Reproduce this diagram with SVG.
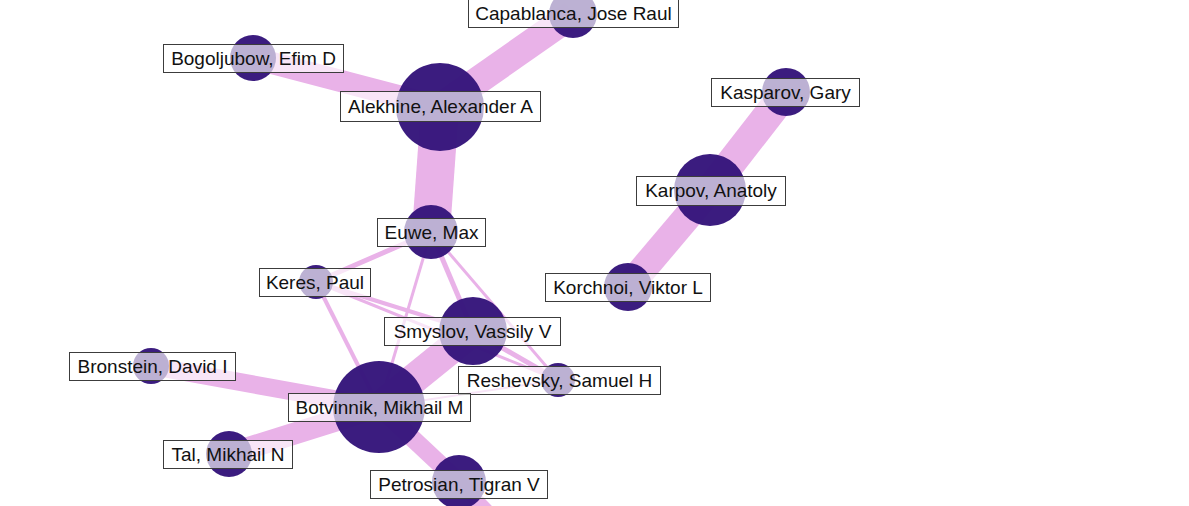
<svg xmlns="http://www.w3.org/2000/svg" width="1189" height="506" viewBox="0 0 1189 506">
<style>
.e{stroke:#e9b2e8;stroke-linecap:butt;fill:none}
.n{fill:#35157b;fill-opacity:0.97}
.lb{fill:#ffffff;fill-opacity:0.66;stroke:#3c3c3c;stroke-width:1}
.t{font-family:"Liberation Sans",Arial,sans-serif;font-size:19px;fill:#111;text-anchor:middle;dominant-baseline:central}
</style>
<rect width="1189" height="506" fill="#ffffff"/>
<g id="connectors">
<line class="e" x1="440" y1="107" x2="573" y2="14" stroke-width="28"/>
<line class="e" x1="440" y1="107" x2="253" y2="58" stroke-width="22"/>
<line class="e" x1="440" y1="107" x2="431" y2="232" stroke-width="38"/>
<line class="e" x1="786" y1="92" x2="710" y2="190" stroke-width="30"/>
<line class="e" x1="710" y1="190" x2="628" y2="287" stroke-width="28"/>
<line class="e" x1="379" y1="407" x2="473" y2="331" stroke-width="30"/>
<line class="e" x1="379" y1="407" x2="151" y2="366" stroke-width="18"/>
<line class="e" x1="379" y1="407" x2="229" y2="454" stroke-width="22"/>
<line class="e" x1="379" y1="407" x2="459" y2="482" stroke-width="18"/>
<line class="e" x1="459" y1="482" x2="515" y2="540" stroke-width="14"/>
<line class="e" x1="431" y1="232" x2="316" y2="282" stroke-width="5"/>
<line class="e" x1="431" y1="232" x2="379" y2="407" stroke-width="3"/>
<line class="e" x1="431" y1="232" x2="473" y2="331" stroke-width="5"/>
<line class="e" x1="431" y1="232" x2="558" y2="380" stroke-width="3"/>
<line class="e" x1="316" y1="282" x2="379" y2="407" stroke-width="4"/>
<line class="e" x1="316" y1="282" x2="473" y2="331" stroke-width="4"/>
<line class="e" x1="316" y1="282" x2="558" y2="380" stroke-width="3"/>
<line class="e" x1="473" y1="331" x2="558" y2="380" stroke-width="5"/>
<line class="e" x1="379" y1="407" x2="558" y2="380" stroke-width="2"/>
</g>
<g id="capablanca"><circle class="n" cx="573" cy="14" r="24"/><rect class="lb" x="468.5" y="-0.5" width="210" height="28"/><text class="t" x="573.5" y="13">Capablanca, Jose Raul</text></g>
<g id="bogoljubow"><circle class="n" cx="253" cy="58" r="23"/><rect class="lb" x="163.5" y="44.5" width="180" height="28"/><text class="t" x="253.5" y="58">Bogoljubow, Efim D</text></g>
<g id="alekhine"><circle class="n" cx="440" cy="107" r="44"/><rect class="lb" x="340.5" y="91.5" width="200" height="30"/><text class="t" x="440.5" y="106">Alekhine, Alexander A</text></g>
<g id="euwe"><circle class="n" cx="431" cy="232" r="27"/><rect class="lb" x="377.5" y="218.5" width="108" height="28"/><text class="t" x="431.5" y="232">Euwe, Max</text></g>
<g id="keres"><circle class="n" cx="316" cy="282" r="17"/><rect class="lb" x="259.5" y="268.5" width="111" height="28"/><text class="t" x="315" y="282">Keres, Paul</text></g>
<g id="smyslov"><circle class="n" cx="473" cy="331" r="34"/><rect class="lb" x="384.5" y="317.5" width="176" height="28"/><text class="t" x="472.5" y="331">Smyslov, Vassily V</text></g>
<g id="reshevsky"><circle class="n" cx="558" cy="380" r="17"/><rect class="lb" x="458.5" y="366.5" width="202" height="28"/><text class="t" x="559.5" y="380">Reshevsky, Samuel H</text></g>
<g id="bronstein"><circle class="n" cx="151" cy="366" r="18"/><rect class="lb" x="69.5" y="352.5" width="166" height="28"/><text class="t" x="152.5" y="366">Bronstein, David I</text></g>
<g id="botvinnik"><circle class="n" cx="379" cy="407" r="46"/><rect class="lb" x="288.5" y="393.5" width="182" height="28"/><text class="t" x="379.5" y="407">Botvinnik, Mikhail M</text></g>
<g id="tal"><circle class="n" cx="229" cy="454" r="23"/><rect class="lb" x="163.5" y="440.5" width="129" height="28"/><text class="t" x="228" y="454">Tal, Mikhail N</text></g>
<g id="petrosian"><circle class="n" cx="459" cy="482" r="27"/><rect class="lb" x="370.5" y="470.5" width="177" height="28"/><text class="t" x="459" y="484">Petrosian, Tigran V</text></g>
<g id="kasparov"><circle class="n" cx="786" cy="92" r="24"/><rect class="lb" x="711.5" y="78.5" width="148" height="28"/><text class="t" x="785.5" y="92">Kasparov, Gary</text></g>
<g id="karpov"><circle class="n" cx="710" cy="190" r="36"/><rect class="lb" x="636.5" y="176.5" width="149" height="29"/><text class="t" x="711" y="190">Karpov, Anatoly</text></g>
<g id="korchnoi"><circle class="n" cx="628" cy="287" r="24"/><rect class="lb" x="545.5" y="273.5" width="165" height="28"/><text class="t" x="628" y="287">Korchnoi, Viktor L</text></g>
</svg>
